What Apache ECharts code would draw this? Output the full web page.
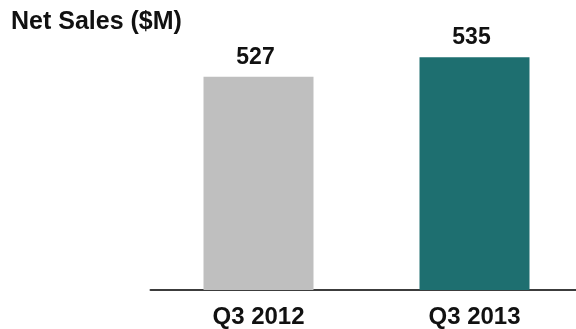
<!DOCTYPE html>
<html>
<head>
<meta charset="utf-8">
<script src="https://cdn.jsdelivr.net/npm/echarts@6/dist/echarts.min.js"></script>
<style>
  html, body { margin: 0; padding: 0; background: #ffffff; overflow: hidden; }
  /* the axis line runs off the right edge, so the canvas is a little wider than the window */
  #chart { width: 590px; height: 329px; }
</style>
</head>
<body>
<div id="chart"></div>
<script>
// Quarterly net sales, in millions of dollars
const categories = ['Q3 2012', 'Q3 2013'];
const netSales = [527, 535];
const barColors = ['#BFBFBF', '#1E6F70'];

const chart = echarts.init(document.getElementById('chart'), null, { renderer: 'canvas' });

chart.setOption({
  animation: false,
  backgroundColor: '#ffffff',
  title: {
    text: 'Net Sales ($M)',
    left: 11,
    top: 10,
    padding: 0,
    textStyle: {
      fontFamily: 'Liberation Sans, Arial, sans-serif',
      fontWeight: 'bold',
      fontSize: 25,
      color: '#111111'
    }
  },
  grid: {
    left: 150.5,
    right: 7.5,
    top: 45,
    bottom: 38.5
  },
  xAxis: {
    type: 'category',
    data: categories,
    axisLine: { show: true, lineStyle: { color: '#3c3c3c', width: 2 } },
    axisTick: { show: false },
    axisLabel: {
      margin: 15,
      fontFamily: 'Liberation Sans, Arial, sans-serif',
      fontWeight: 'bold',
      fontSize: 24,
      color: '#111111'
    }
  },
  yAxis: {
    type: 'value',
    min: 440,
    max: 540,
    show: false,
    splitLine: { show: false }
  },
  series: [{
    type: 'bar',
    barWidth: 110,
    data: netSales.map((v, i) => ({ value: v, itemStyle: { color: barColors[i] } })),
    label: {
      show: true,
      position: 'top',
      distance: 8,
      offset: [-3, 0],
      fontFamily: 'Liberation Sans, Arial, sans-serif',
      fontWeight: 'bold',
      fontSize: 23,
      color: '#111111'
    }
  }]
});
</script>
</body>
</html>
